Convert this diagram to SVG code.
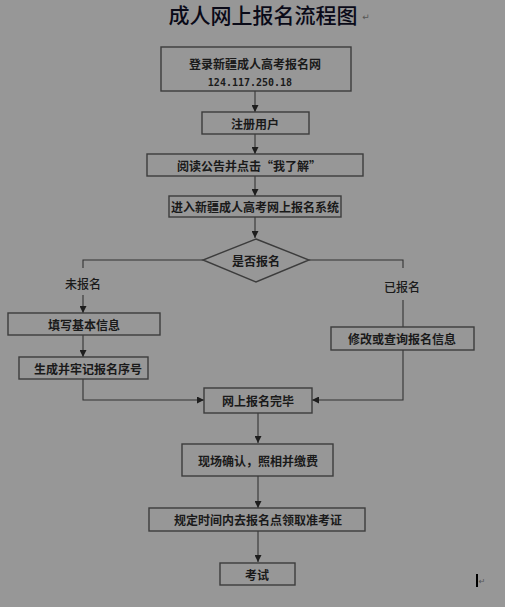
<svg xmlns="http://www.w3.org/2000/svg" width="505" height="607" viewBox="0 0 505 607">
<defs>
<marker id="ah" viewBox="0 0 10 10" refX="10" refY="5" markerWidth="7" markerHeight="7" markerUnits="userSpaceOnUse" orient="auto">
<path d="M0,0 L10,5 L0,10 z" fill="#1e1e1e"/>
</marker>
</defs>
<style>
.box{fill:#979797;stroke:#3c3c3c;stroke-width:1.4}
.t{font-family:"Noto Sans CJK SC","Liberation Sans",sans-serif;font-size:12px;font-weight:bold;fill:#1a1a1a;text-anchor:middle;dominant-baseline:central}
.lbl{font-family:"Noto Sans CJK SC","Liberation Sans",sans-serif;font-size:12px;font-weight:500;fill:#1a1a1a;text-anchor:middle;dominant-baseline:central}
.c{fill:none;stroke:#333;stroke-width:1.1}
.ca{fill:none;stroke:#333;stroke-width:1.1;marker-end:url(#ah)}
</style>
<rect x="0" y="0" width="505" height="607" fill="#979797"/>
<g id="title">
<text x="263" y="14" font-family="Noto Sans CJK SC,Liberation Serif,serif" font-size="21" font-weight="500" fill="#0a0a18" text-anchor="middle" dominant-baseline="central">成人网上报名流程图</text>
<text x="366" y="17" font-family="DejaVu Sans,sans-serif" font-size="9" fill="#555" text-anchor="middle" dominant-baseline="central">↵</text>
</g>
<g id="connectors">
<line class="ca" x1="255" y1="91" x2="255" y2="112"/>
<line class="ca" x1="255" y1="134" x2="255" y2="154"/>
<line class="ca" x1="255" y1="176" x2="255" y2="196"/>
<line class="ca" x1="255" y1="217" x2="255" y2="238"/>
<polyline class="c" points="203,260 83,260 83,268"/>
<line class="ca" x1="83" y1="295" x2="83" y2="313"/>
<line class="ca" x1="83" y1="335" x2="83" y2="357"/>
<polyline class="ca" points="83,379 83,400 204,400"/>
<polyline class="c" points="309,260 403,260 403,268"/>
<line class="c" x1="403" y1="300" x2="403" y2="327"/>
<polyline class="ca" points="403,350 403,400 312,400"/>
<line class="ca" x1="258" y1="413" x2="258" y2="443"/>
<line class="ca" x1="258" y1="476" x2="258" y2="508"/>
<line class="ca" x1="258" y1="531" x2="258" y2="562"/>
</g>
<g id="n1"><rect class="box" x="161" y="47" width="190" height="44"/>
<text class="t" x="255" y="63">登录新疆成人高考报名网</text>
<text x="250" y="82" font-family="DejaVu Sans Mono,Liberation Mono,monospace" font-size="10" font-weight="bold" fill="#1a1a1a" text-anchor="middle" dominant-baseline="central">124.117.250.18</text></g>
<g id="n2"><rect class="box" x="202" y="112" width="107" height="22"/><text class="t" x="255" y="123">注册用户</text></g>
<g id="n3"><rect class="box" x="147" y="154" width="216" height="22"/><text class="t" x="249" y="165">阅读公告并点击“我了解”</text></g>
<g id="n4"><rect class="box" x="169" y="196" width="172" height="21"/><text class="t" x="255" y="206.5">进入新疆成人高考网上报名系统</text></g>
<g id="n5"><polygon class="box" points="256,239 309,260 256,282 203,260"/><text class="t" x="256" y="260">是否报名</text></g>
<g id="l1"><text class="lbl" x="83" y="283">未报名</text></g>
<g id="l2"><text class="lbl" x="402" y="286">已报名</text></g>
<g id="n6"><rect class="box" x="8" y="313" width="152" height="22"/><text class="t" x="84" y="324">填写基本信息</text></g>
<g id="n7"><rect class="box" x="19" y="357" width="129" height="22"/><text class="t" x="88" y="368">生成并牢记报名序号</text></g>
<g id="n8"><rect class="box" x="331" y="327" width="143" height="23"/><text class="t" x="402" y="338.5">修改或查询报名信息</text></g>
<g id="n9"><rect class="box" x="204" y="388" width="108" height="25"/><text class="t" x="258" y="400.5">网上报名完毕</text></g>
<g id="n10"><rect class="box" x="182" y="444" width="151" height="32"/><text class="t" x="258" y="460">现场确认，照相并缴费</text></g>
<g id="n11"><rect class="box" x="149" y="508" width="216" height="23"/><text class="t" x="258" y="519.5">规定时间内去报名点领取准考证</text></g>
<g id="n12"><rect class="box" x="220" y="563" width="75" height="22"/><text class="t" x="257" y="574">考试</text></g>
<g id="cursor">
<rect x="476" y="574" width="2" height="13" fill="#000"/>
<text x="482" y="581" font-family="DejaVu Sans,sans-serif" font-size="8" fill="#555" text-anchor="middle" dominant-baseline="central">↵</text>
</g>
</svg>
